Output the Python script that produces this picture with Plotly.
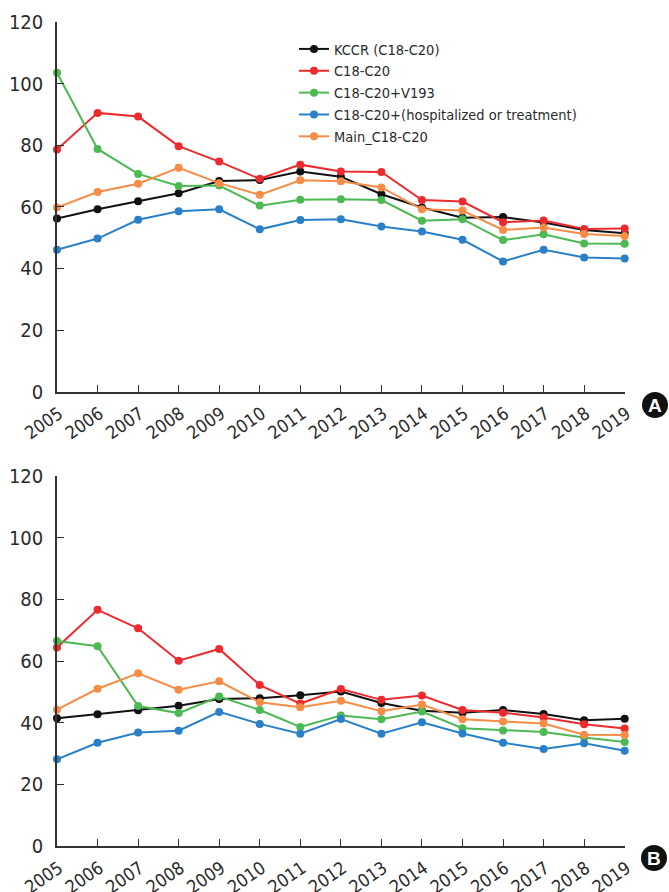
import plotly.graph_objects as go

years = list(range(2005, 2020))
year_labels = [str(y) for y in years]
y_ticks = [0, 20, 40, 60, 80, 100, 120]

series_names = ["KCCR (C18-C20)", "C18-C20", "C18-C20+V193",
                "C18-C20+(hospitalized or treatment)", "Main_C18-C20"]
series_colors = ["#111111", "#ed2b2e", "#4cb953", "#2a80c8", "#f68c46"]

# Panel A
a_kccr = [56.2, 59.2, 61.8, 64.4, 68.4, 68.7, 71.5, 69.8, 64.1, 59.8, 56.5, 56.7, 54.9, 52.5, 51.4]
a_c18 = [78.6, 90.5, 89.3, 79.7, 74.7, 69.1, 73.7, 71.5, 71.3, 62.2, 61.7, 55.0, 55.6, 52.8, 53.0]
a_v193 = [103.5, 78.8, 70.7, 66.8, 66.9, 60.4, 62.3, 62.5, 62.2, 55.5, 56.0, 49.2, 51.1, 48.1, 48.0]
a_hosp = [46.1, 49.7, 55.8, 58.6, 59.2, 52.7, 55.7, 56.0, 53.6, 52.0, 49.3, 42.3, 46.1, 43.6, 43.2]
a_main = [59.8, 64.8, 67.5, 72.7, 67.7, 63.9, 68.6, 68.3, 66.3, 59.2, 58.8, 52.5, 53.3, 51.2, 50.5]

# Panel B
b_kccr = [41.4, 42.7, 44.0, 45.5, 47.7, 47.9, 48.9, 50.1, 46.4, 43.9, 43.2, 44.1, 42.8, 40.8, 41.3]
b_c18 = [64.4, 76.6, 70.6, 60.1, 63.9, 52.2, 46.2, 50.9, 47.4, 48.8, 44.1, 43.2, 41.7, 39.5, 38.1]
b_v193 = [66.5, 64.8, 45.4, 43.1, 48.5, 44.1, 38.6, 42.3, 41.1, 43.6, 38.2, 37.5, 37.0, 35.2, 33.7]
b_hosp = [28.1, 33.5, 36.8, 37.4, 43.5, 39.6, 36.4, 41.2, 36.4, 40.1, 36.5, 33.5, 31.5, 33.3, 30.9]
b_main = [44.2, 51.0, 56.0, 50.7, 53.4, 46.6, 45.0, 47.1, 43.7, 45.9, 41.1, 40.4, 39.7, 36.1, 36.0]

panel_a = [a_kccr, a_c18, a_v193, a_hosp, a_main]
panel_b = [b_kccr, b_c18, b_v193, b_hosp, b_main]

FONT = "DejaVu Sans Condensed, Liberation Sans Narrow, sans-serif"
TXT = "#2b2b2b"
AX = "#333333"

fig = go.Figure()
for vals, name, col in zip(panel_a, series_names, series_colors):
    fig.add_trace(go.Scatter(x=years, y=vals, name=name, mode="lines+markers",
                             line=dict(color=col, width=2), marker=dict(color=col, size=8),
                             cliponaxis=False, xaxis="x", yaxis="y"))
for vals, name, col in zip(panel_b, series_names, series_colors):
    fig.add_trace(go.Scatter(x=years, y=vals, name=name, mode="lines+markers",
                             line=dict(color=col, width=2), marker=dict(color=col, size=8),
                             cliponaxis=False, showlegend=False, xaxis="x2", yaxis="y2"))

W, H = 669, 892
xdom = [57 / W, 624.7 / W]

def xaxis(anchor):
    return dict(domain=xdom, anchor=anchor, range=[2005, 2019], tickmode="array",
                tickvals=years, ticktext=year_labels, tickangle=-35, automargin=False,
                showline=True, linecolor=AX, linewidth=1.5, ticks="inside",
                ticklen=7, tickcolor=AX, tickwidth=1.2, showgrid=False, zeroline=False,
                tickfont=dict(family=FONT, size=18, color=TXT), ticklabelshift=2,
                ticklabelstandoff=3)

def yaxis(anchor, dom):
    return dict(domain=dom, anchor=anchor, range=[0, 120], tickmode="array",
                tickvals=y_ticks, showline=True, linecolor=AX, linewidth=1.5,
                ticks="inside", ticklen=7, tickcolor=AX, tickwidth=1.2, automargin=False,
                showgrid=False, zeroline=False, ticklabelstandoff=8,
                tickfont=dict(family=FONT, size=20, color=TXT))

fig.update_layout(
    width=W, height=H, margin=dict(l=0, r=0, t=0, b=0, autoexpand=False),
    paper_bgcolor="white", plot_bgcolor="white",
    xaxis=xaxis("y"), yaxis=yaxis("x", [(H - 391.7) / H, (H - 22) / H]),
    xaxis2=xaxis("y2"), yaxis2=yaxis("x2", [(H - 846) / H, (H - 476) / H]),
    legend=dict(x=294 / W, y=(H - 33) / H, xanchor="left", yanchor="top",
                bgcolor="rgba(0,0,0,0)", font=dict(family=FONT, size=14.5, color=TXT),
                itemwidth=30, tracegroupgap=0),
    showlegend=True,
)

for letter, cx, cy in (("A", 655, 405), ("B", 654, 858)):
    fig.add_shape(type="circle", xref="paper", yref="paper", xsizemode="pixel",
                  ysizemode="pixel", xanchor=cx / W, yanchor=(H - cy) / H,
                  x0=-13, x1=13, y0=-13, y1=13, fillcolor="#111111", line=dict(width=0))
    fig.add_annotation(x=cx / W, y=(H - cy) / H, xref="paper", yref="paper",
                       xanchor="center", yanchor="middle",
                       text="<b>" + letter + "</b>", showarrow=False,
                       font=dict(family="Liberation Sans, Arial, sans-serif", size=19, color="white"))

fig.write_html("out.html", config={"displayModeBar": False},
               post_script=("document.documentElement.style.overflow='hidden';"
                            "document.body.style.margin='0';"
                            "document.body.style.overflow='hidden';"))
